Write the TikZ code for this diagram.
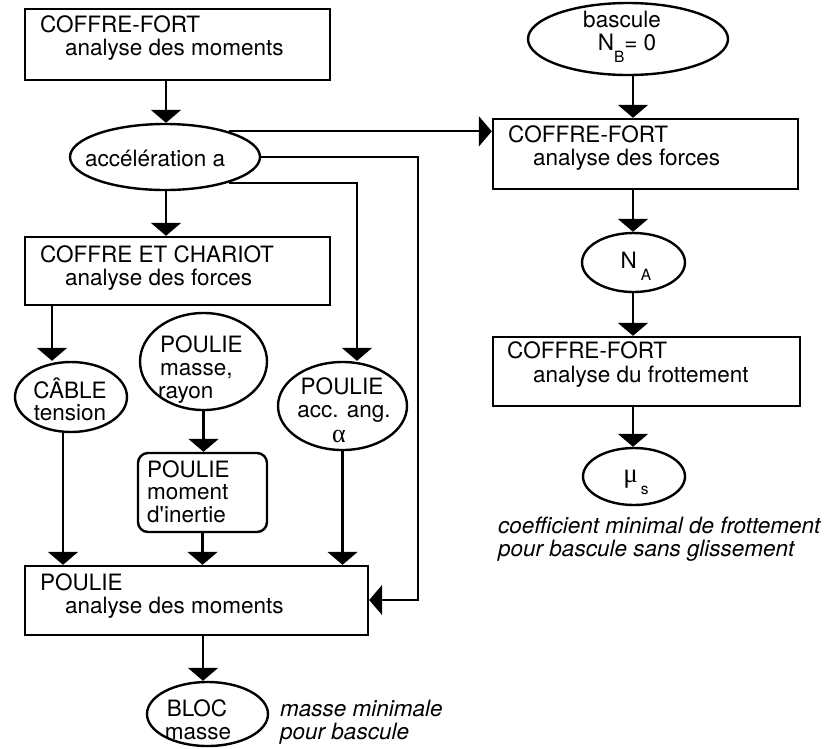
\documentclass[tikz,border=0pt]{standalone}
\usepackage{fontspec}
\setmainfont{TeX Gyre Heros}[Ligatures=TeXOff]
\newfontfamily\grk{Liberation Serif}
\usetikzlibrary{arrows.meta,shapes.geometric}

% subscript drawn well below the baseline, as in the flow chart
\newcommand{\lowsub}[1]{\raisebox{-12pt}{\fontsize{15.5}{15.5}\selectfont #1}}

\tikzset{
  lw/.style={line width=2.3pt},
  box/.style={line width=2.4pt, draw, rectangle, inner sep=0pt},
  rbox/.style={box, rounded corners=10pt},
  oval/.style={line width=2.4pt, draw, ellipse, inner sep=0pt},
  txt/.style={inner sep=0pt, anchor=base west, font=\fontsize{22.5}{24}\selectfont},
  ctxt/.style={txt, anchor=base},
  note/.style={txt, font=\fontsize{22.5}{24}\selectfont\itshape},
  greek/.style={font=\fontsize{26}{26}\selectfont\grk},
  arr/.style={lw, -{Triangle[width=30pt,length=13pt]}},
}

\begin{document}
\begin{tikzpicture}[x=1pt,y=-1pt]
\useasboundingbox (0,0) rectangle (824,748);

% ---------- left column ----------
\node[box, minimum width=305pt, minimum height=71pt] (cfm) at (177.5,44.5) {};
\node[txt] (cfm1) at (40,32) {COFFRE-FORT};
\node[txt] (cfm2) at (65,55) {analyse des moments};

\node[oval, minimum width=190pt, minimum height=66pt] (acc) at (165,157) {};
\node[txt] (acct) at (85,166) {accélération a};

\node[box, minimum width=305pt, minimum height=68pt] (cc) at (177.5,271) {};
\node[txt] (cc1) at (40,262) {COFFRE ET CHARIOT};
\node[txt] (cc2) at (65,285) {analyse des forces};

\node[oval, minimum width=112pt, minimum height=70pt] (cab) at (71,397) {};
\node[ctxt] (cab1) at (70,398) {CÂBLE};
\node[ctxt] (cab2) at (70,420) {tension};

\node[oval, minimum width=127pt, minimum height=97pt] (pmr) at (203.5,361.5) {};
\node[txt] (pmr1) at (160,352) {POULIE};
\node[txt] (pmr2) at (160,375) {masse,};
\node[txt] (pmr3) at (158,398) {rayon};

\node[rbox, minimum width=129pt, minimum height=79pt] (pmi) at (202.5,492.5) {};
\node[txt] (pmi1) at (147,477) {POULIE};
\node[txt] (pmi2) at (147,499) {moment};
\node[txt] (pmi3) at (147,522) {d'inertie};

\node[oval, minimum width=129pt, minimum height=88pt] (paa) at (342.5,406) {};
\node[ctxt] (paa1) at (342,394) {POULIE};
\node[ctxt] (paa2) at (344,417) {acc. ang.};
\node[ctxt, greek] (paa3) at (339,442) {α};

\node[box, minimum width=343pt, minimum height=69pt] (pam) at (196.5,600.5) {};
\node[txt] (pam1) at (40,590) {POULIE};
\node[txt] (pam2) at (65,613) {analyse des moments};

\node[oval, minimum width=121pt, minimum height=64pt] (bloc) at (207.5,714) {};
\node[ctxt] (bloc1) at (197,716) {BLOC};
\node[ctxt] (bloc2) at (198,739) {masse};
\node[note] (mm1) at (280,716) {masse minimale};
\node[note] (mm2) at (280,739) {pour bascule};

% ---------- right column ----------
\node[oval, minimum width=200pt, minimum height=72pt] (bas) at (628,39) {};
\node[ctxt] (bas1) at (622,27) {bascule};
\node[ctxt] (bas2) at (627,50) {N\lowsub{B}= 0};

\node[box, minimum width=305pt, minimum height=70pt] (cff) at (645.5,154) {};
\node[txt] (cff1) at (508,142) {COFFRE-FORT};
\node[txt] (cff2) at (533,165) {analyse des forces};

\node[oval, minimum width=103pt, minimum height=59pt] (na) at (633.5,262.5) {};
\node[ctxt] (nat) at (636,268) {N\hspace{4pt}\lowsub{A}};

\node[box, minimum width=307pt, minimum height=69pt] (cfr) at (646.5,371.5) {};
\node[txt] (cfr1) at (507,358) {COFFRE-FORT};
\node[txt] (cfr2) at (533,382) {analyse du frottement};

\node[oval, minimum width=102pt, minimum height=57pt] (mu) at (634,476.5) {};
\node[ctxt] (mut) at (636,482) {{\grk\fontsize{27}{27}\selectfont μ}\hspace{3pt}\lowsub{s}};
\node[note] (co1) at (498,533) {coefficient minimal de frottement};
\node[note] (co2) at (498,556) {pour bascule sans glissement};

% ---------- bends of the long connectors ----------
\coordinate (k1) at (357,179);
\coordinate (k2) at (418,157);
\coordinate (k3) at (418,600);

% ---------- connectors ----------
\draw[arr] (cfm.south -| 166,0) -- (acc.north -| 166,0);
\draw[arr] (acc.south -| 166,0) -- (cc.north -| 166,0);
\draw[arr] (cc.south -| 52,0) -- (cab.north -| 52,0);
\draw[arr] (cab.south -| 63,0) -- (pam.north -| 63,0);
\draw[arr] (pmr.south) -- (pmi.north -| pmr.south);
\draw[arr] (pmi.south) -- (pam.north -| pmi.south);
\draw[arr] (acc.-22) -- (acc.-22 -| k1) -- (paa.north -| k1);
\draw[arr] (paa.south) -- (pam.north -| paa.south);
\draw[arr] (acc.east) -- (acc.east -| k2) -- (k3) -- (pam.east |- k3);
\draw[arr] (acc.22) -- (cff.west |- acc.22);
\draw[arr] (pam.south -| 203,0) -- (bloc.north -| 203,0);

\draw[arr] (bas.south -| 633,0) -- (cff.north -| 633,0);
\draw[arr] (cff.south -| 633,0) -- (na.north -| 633,0);
\draw[arr] (na.south -| 633,0) -- (cfr.north -| 633,0);
\draw[arr] (cfr.south -| 633,0) -- (mu.north -| 633,0);
\end{tikzpicture}
\end{document}
